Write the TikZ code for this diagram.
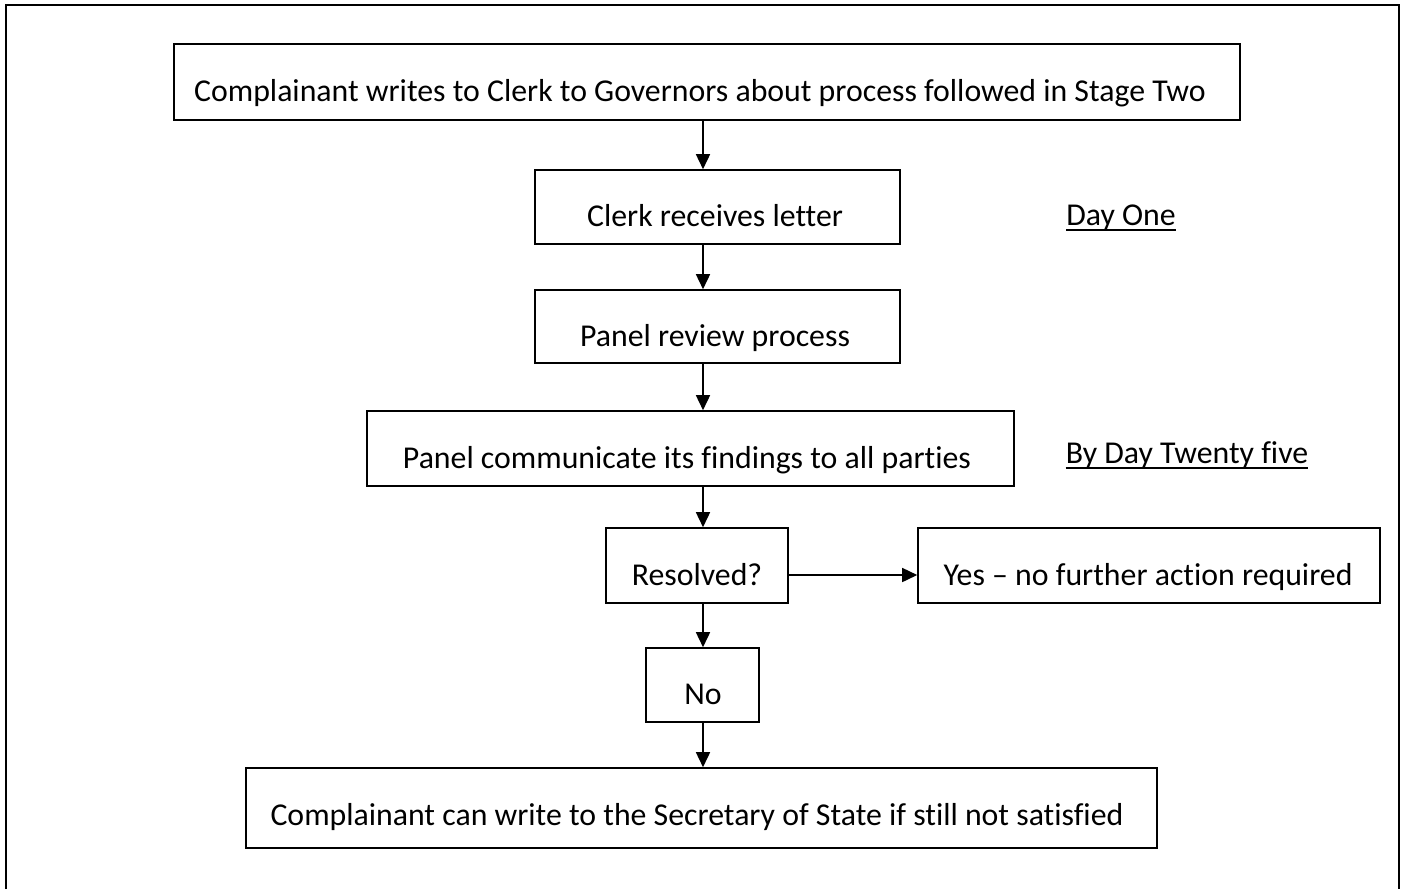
\documentclass[tikz,border=0pt]{standalone}
\usepackage{fontspec}
\setmainfont[Ligatures=NoCommon]{Carlito}
\usetikzlibrary{arrows.meta}
\begin{document}
\begin{tikzpicture}[x=1pt,y=-1pt,
  box/.style={draw,line width=1.6pt,inner sep=0pt},
  txt/.style={inner sep=0pt,font=\fontsize{31.8}{36}\selectfont,anchor=base},
  uline/.style={line width=2.2pt},
  arr/.style={line width=1.6pt,-{Triangle[length=15pt,width=14pt]}}]
\useasboundingbox (0,0) rectangle (1407,889);
\draw[line width=2.6pt] (6,889) -- (6,5) -- (1399,5) -- (1399,889);
% boxes
\node[box,minimum width=1066pt,minimum height=76pt] (b1) at (707,82) {};
\node[box,minimum width=365pt,minimum height=74pt] (b2) at (717.5,207) {};
\node[box,minimum width=365pt,minimum height=73pt] (b3) at (717.5,326.5) {};
\node[box,minimum width=647pt,minimum height=75pt] (b4) at (690.5,448.5) {};
\node[box,minimum width=182pt,minimum height=75pt] (b5) at (697,565.5) {};
\node[box,minimum width=462pt,minimum height=75pt] (b6) at (1149,565.5) {};
\node[box,minimum width=113pt,minimum height=74pt] (b7) at (702.5,685) {};
\node[box,minimum width=911pt,minimum height=80pt] (b8) at (701.5,808) {};
% texts
\node[txt] (t1) at (700,101) {Complainant writes to Clerk to Governors about process followed in Stage Two};
\node[txt] (t2) at (715,226) {Clerk receives letter};
\node[txt] (t3) at (715,346) {Panel review process};
\node[txt] (t4) at (687,468) {Panel communicate its findings to all parties};
\node[txt] (t5) at (697,585) {Resolved?};
\node[txt] (t6) at (1148,585) {Yes -- no further action required};
\node[txt] (t7) at (703,704) {No};
\node[txt] (t8) at (697,825) {Complainant can write to the Secretary of State if still not satisfied};
\node[txt] (d1) at (1121,225) {Day One};
\node[txt] (d2) at (1187,463) {By Day Twenty five};
\draw[uline] ([yshift=-5pt]d1.base west) -- ([yshift=-5pt]d1.base east);
\draw[uline] ([yshift=-5pt]d2.base west) -- ([yshift=-5pt]d2.base east);
% arrows
\draw[arr] (b1.south -| 703,0) -- (b2.north -| 703,0);
\draw[arr] (b2.south -| 703,0) -- (b3.north -| 703,0);
\draw[arr] (b3.south -| 703,0) -- (b4.north -| 703,0);
\draw[arr] (b4.south -| 703,0) -- (b5.north -| 703,0);
\draw[arr] (b5.south -| 703,0) -- (b7.north -| 703,0);
\draw[arr] (b7.south -| 703,0) -- (b8.north -| 703,0);
\draw[arr] (b5.east |- 0,575) -- (b6.west |- 0,575);
\end{tikzpicture}
\end{document}
